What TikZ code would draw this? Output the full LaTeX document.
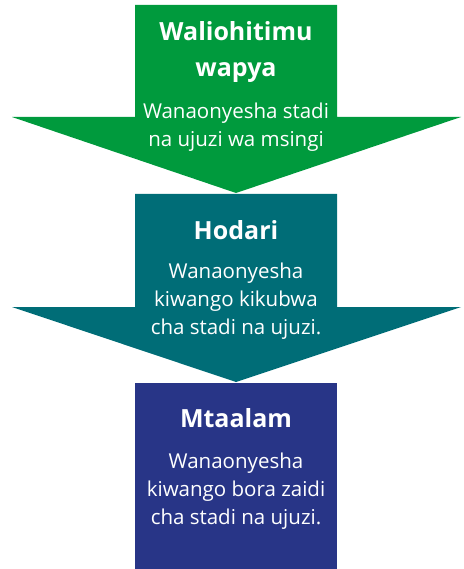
\documentclass[tikz,border=0pt]{standalone}
\usepackage{fontspec}
\setmainfont{Open Sans}
\definecolor{cgreen}{HTML}{009A3D}
\definecolor{cteal}{HTML}{006D77}
\definecolor{cnavy}{HTML}{283587}
\tikzset{
  ttl/.style={text=white, font=\fontsize{25}{36}\selectfont\bfseries, align=center},
  body/.style={text=white, font=\fontsize{20.5}{28}\selectfont, align=center},
}
\begin{document}
\begin{tikzpicture}[x=1pt,y=-1pt]
\useasboundingbox (0,0) rectangle (463,569);
% arrow 1
\fill[cgreen] (135,5) -- (337,5) -- (337,117) -- (461,117) -- (236,193) -- (12,117) -- (135,117) -- cycle;
% arrow 2
\fill[cteal] (135,194) -- (337,194) -- (337,307) -- (461,307) -- (236,382) -- (12,307) -- (135,307) -- cycle;
% box 3
\fill[cnavy] (135,383) rectangle (337,569);
\node[ttl] (t1) at (236,52) {Waliohitimu\\wapya};
\node[body] (b1) at (236,127) {Wanaonyesha stadi\\na ujuzi wa msingi};
\node[ttl] (t2) at (236,230) {Hodari};
\node[body] (b2) at (236,301) {Wanaonyesha\\kiwango kikubwa\\cha stadi na ujuzi.};
\node[ttl] (t3) at (236,418) {Mtaalam};
\node[body] (b3) at (236,491) {Wanaonyesha\\kiwango bora zaidi\\cha stadi na ujuzi.};
\end{tikzpicture}
\end{document}
